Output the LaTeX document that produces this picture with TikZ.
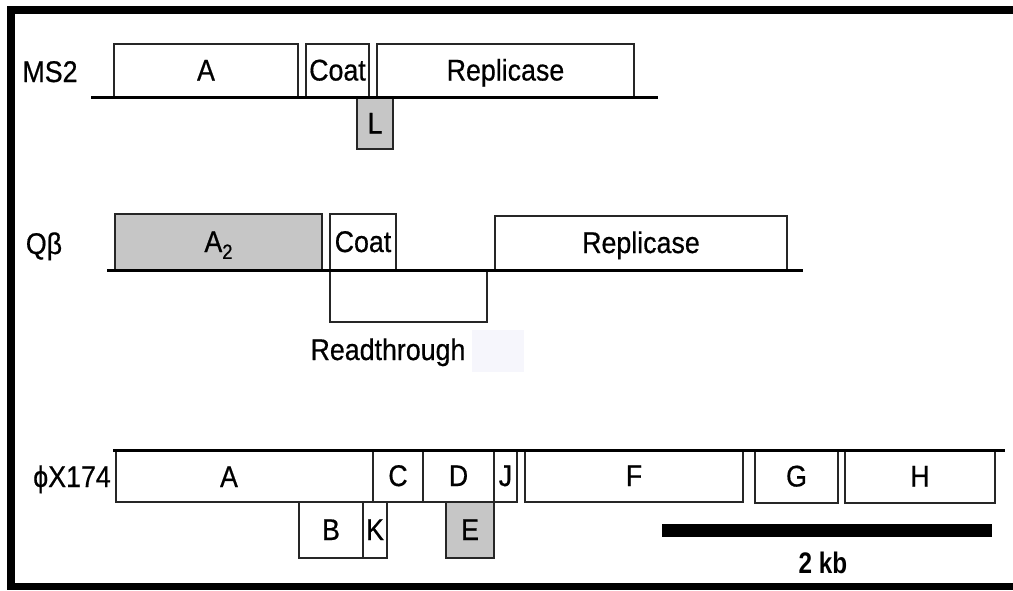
\documentclass[tikz,border=0pt]{standalone}
\usepackage{fontspec}
\setmainfont{Liberation Sans}
\newfontfamily\genefont{Liberation Sans}[FakeBold=0.6]
\usetikzlibrary{positioning}

\definecolor{stipple}{RGB}{198,198,198}
\definecolor{haze}{RGB}{246,246,252}

% slightly tall lettering, as in the printed gene map
\newcommand{\tall}[1]{\scalebox{1.03}[1.15]{#1}}

\tikzset{
  genome/.style={line width=3pt, black},
  gene/.style={draw=black!85, line width=1.4pt, inner sep=0pt, fill=white,
    font=\genefont\fontsize{26}{30}\selectfont, text height=21pt, text depth=1pt},
  shaded/.style={gene, fill=stipple},
  lbl/.style={inner sep=0pt, font=\genefont\fontsize{26}{30}\selectfont, text height=21pt, text depth=1pt},
}

\begin{document}
\begin{tikzpicture}[x=1pt,y=-1pt]
\useasboundingbox (0,0) rectangle (1013,590);
\fill[white] (0,0) rectangle (1013,590);

% frame
\fill[black] (7,6) rectangle (15,590);
\fill[black] (7,6) rectangle (1013,14);
\fill[black] (15,583) rectangle (1013,590);

% ---------------- MS2 ----------------
\node[lbl] (msname) at (50,72) {\tall{MS2}};
\coordinate (ms0) at (91,97);
\coordinate (ms1) at (658,97);
\node[gene, minimum width=184pt, minimum height=53pt] (msA) at (206,70.5) {\tall{A}};
\node[gene, minimum width=63pt, minimum height=53pt] (msCoat) at (337.5,70.5) {\tall{Coat}};
\node[gene, minimum width=257pt, minimum height=53pt] (msRep) at (505.5,70.5) {\tall{Replicase}};
\node[shaded, minimum width=36pt, minimum height=51pt] (msL) at (375,123.5) {\tall{L}};
\draw[genome] (ms0) -- (ms1);

% ---------------- Q beta ----------------
\node[lbl] (qbname) at (44,244) {\tall{Qβ}};
\coordinate (qb0) at (107,270);
\coordinate (qb1) at (803,270);
\node[shaded, minimum width=207pt, minimum height=56pt] (qbA) at (218.5,242)
  {\tall{A\raisebox{-6pt}{\fontsize{18}{18}\selectfont 2}}};
\node[gene, minimum width=66pt, minimum height=56pt] (qbCoat) at (363,242) {\tall{Coat}};
\node[gene, minimum width=292pt, minimum height=54pt] (qbRep) at (641,243) {\tall{Replicase}};
\node[gene, minimum width=157pt, minimum height=52pt] (qbRT) at (408.5,296) {};
\fill[haze] (472,330) rectangle (524,372);
\node[lbl] (qbRTtext) at (388,350) {\tall{Readthrough}};
\draw[genome] (qb0) -- (qb1);

% ---------------- phi X174 ----------------
\node[lbl] (phname) at (72,477) {\tall{ϕX174}};
\coordinate (ph0) at (113,450);
\coordinate (ph1) at (1005,450);
\node[gene, minimum width=257pt, minimum height=52pt] (phA) at (244.5,476) {};
\node[lbl] (phAtext) at (229,477) {\tall{A}};
\node[gene, minimum width=50pt, minimum height=52pt] (phC) at (398,476) {\tall{C}};
\node[gene, minimum width=71pt, minimum height=52pt] (phD) at (458.5,476) {\tall{D}};
\node[gene, minimum width=23pt, minimum height=52pt] (phJ) at (505.5,476) {\tall{J}};
\node[gene, minimum width=218pt, minimum height=52pt] (phF) at (634,476) {\tall{F}};
\node[gene, minimum width=83pt, minimum height=53pt] (phG) at (796.5,476.5) {\tall{G}};
\node[gene, minimum width=150pt, minimum height=53pt] (phH) at (920,476.5) {\tall{H}};
\node[gene, minimum width=64pt, minimum height=56pt] (phB) at (331,530) {\tall{B}};
\node[gene, minimum width=24pt, minimum height=56pt] (phK) at (375,530) {\tall{K}};
\node[shaded, minimum width=48pt, minimum height=56pt] (phE) at (470,530) {\tall{E}};
\draw[genome] (ph0) -- (ph1);

% scale bar
\node[fill=black, inner sep=0pt, minimum width=330pt, minimum height=13pt] (bar) at (827,530.5) {};
\node[inner sep=0pt, font=\fontsize{27}{30}\selectfont\bfseries] (bartext) at (823,563) {\scalebox{0.9}[1.1]{2 kb}};
\end{tikzpicture}
\end{document}
